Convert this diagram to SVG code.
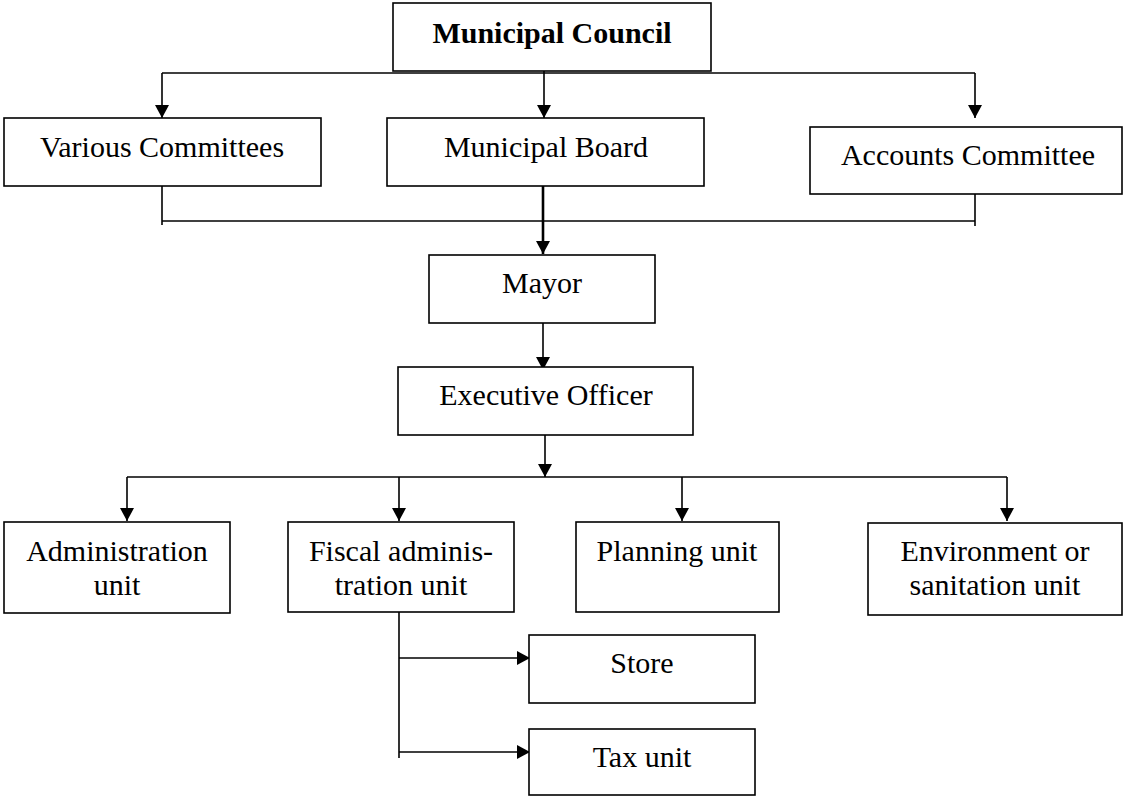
<svg xmlns="http://www.w3.org/2000/svg" width="1125" height="796" viewBox="0 0 1125 796">
<style>
.box{fill:#fff;stroke:#000;stroke-width:1.6}
.t{font-family:"Liberation Serif","Times New Roman",serif;font-size:30px;fill:#000;text-anchor:middle}
.b{font-weight:bold}
.c{fill:none;stroke:#000;stroke-width:1.6}
.a{marker-end:url(#ah)}
</style>
<defs>
<marker id="ah" viewBox="0 0 14 14" markerWidth="14" markerHeight="14" refX="13" refY="7" orient="auto" markerUnits="userSpaceOnUse">
<path d="M0,0 L13,7 L0,14 z" fill="#000"/>
</marker>
</defs>
<rect width="1125" height="796" fill="#fff"/>
<g id="connectors">
<line class="c" x1="162" y1="73" x2="975" y2="73"/>
<line class="c a" x1="162" y1="73" x2="162" y2="118"/>
<line class="c a" x1="544" y1="71" x2="544" y2="118"/>
<line class="c a" x1="975" y1="73" x2="975" y2="118"/>
<line class="c" x1="162" y1="186" x2="162" y2="225"/>
<line class="c" x1="975" y1="194" x2="975" y2="226"/>
<line class="c" x1="162" y1="221" x2="975" y2="221"/>
<line class="c a" x1="543" y1="186" x2="543" y2="254" style="stroke-width:2.6"/>
<line class="c a" x1="543" y1="323" x2="543" y2="370"/>
<line class="c a" x1="545" y1="435" x2="545" y2="477"/>
<line class="c" x1="127" y1="477" x2="1007" y2="477"/>
<line class="c a" x1="127" y1="477" x2="127" y2="521"/>
<line class="c a" x1="399" y1="477" x2="399" y2="521"/>
<line class="c a" x1="682" y1="477" x2="682" y2="521"/>
<line class="c a" x1="1007" y1="477" x2="1007" y2="521"/>
<line class="c" x1="399" y1="612" x2="399" y2="758"/>
<line class="c a" x1="399" y1="658" x2="530" y2="658"/>
<line class="c a" x1="399" y1="752" x2="530" y2="752"/>
</g>
<g id="council"><rect class="box" x="393" y="3" width="318" height="68"/><text class="t b" x="552" y="43">Municipal Council</text></g>
<g id="various"><rect class="box" x="4" y="118" width="317" height="68"/><text class="t" x="162" y="157">Various Committees</text></g>
<g id="board"><rect class="box" x="387" y="118" width="317" height="68"/><text class="t" x="546" y="157">Municipal Board</text></g>
<g id="accounts"><rect class="box" x="810" y="127" width="312" height="67"/><text class="t" x="968" y="165">Accounts Committee</text></g>
<g id="mayor"><rect class="box" x="429" y="255" width="226" height="68"/><text class="t" x="542" y="293">Mayor</text></g>
<g id="executive"><rect class="box" x="398" y="367" width="295" height="68"/><text class="t" x="546" y="405">Executive Officer</text></g>
<g id="admin"><rect class="box" x="4" y="522" width="226" height="91"/><text class="t" x="117" y="561">Administration</text><text class="t" x="117" y="595">unit</text></g>
<g id="fiscal"><rect class="box" x="288" y="522" width="226" height="90"/><text class="t" x="401" y="561">Fiscal adminis-</text><text class="t" x="401" y="595">tration unit</text></g>
<g id="planning"><rect class="box" x="576" y="522" width="203" height="90"/><text class="t" x="677" y="561">Planning unit</text></g>
<g id="environment"><rect class="box" x="868" y="523" width="254" height="92"/><text class="t" x="995" y="561">Environment or</text><text class="t" x="995" y="595">sanitation unit</text></g>
<g id="store"><rect class="box" x="529" y="635" width="226" height="68"/><text class="t" x="642" y="673">Store</text></g>
<g id="tax"><rect class="box" x="529" y="729" width="226" height="66"/><text class="t" x="642" y="767">Tax unit</text></g>
</svg>
